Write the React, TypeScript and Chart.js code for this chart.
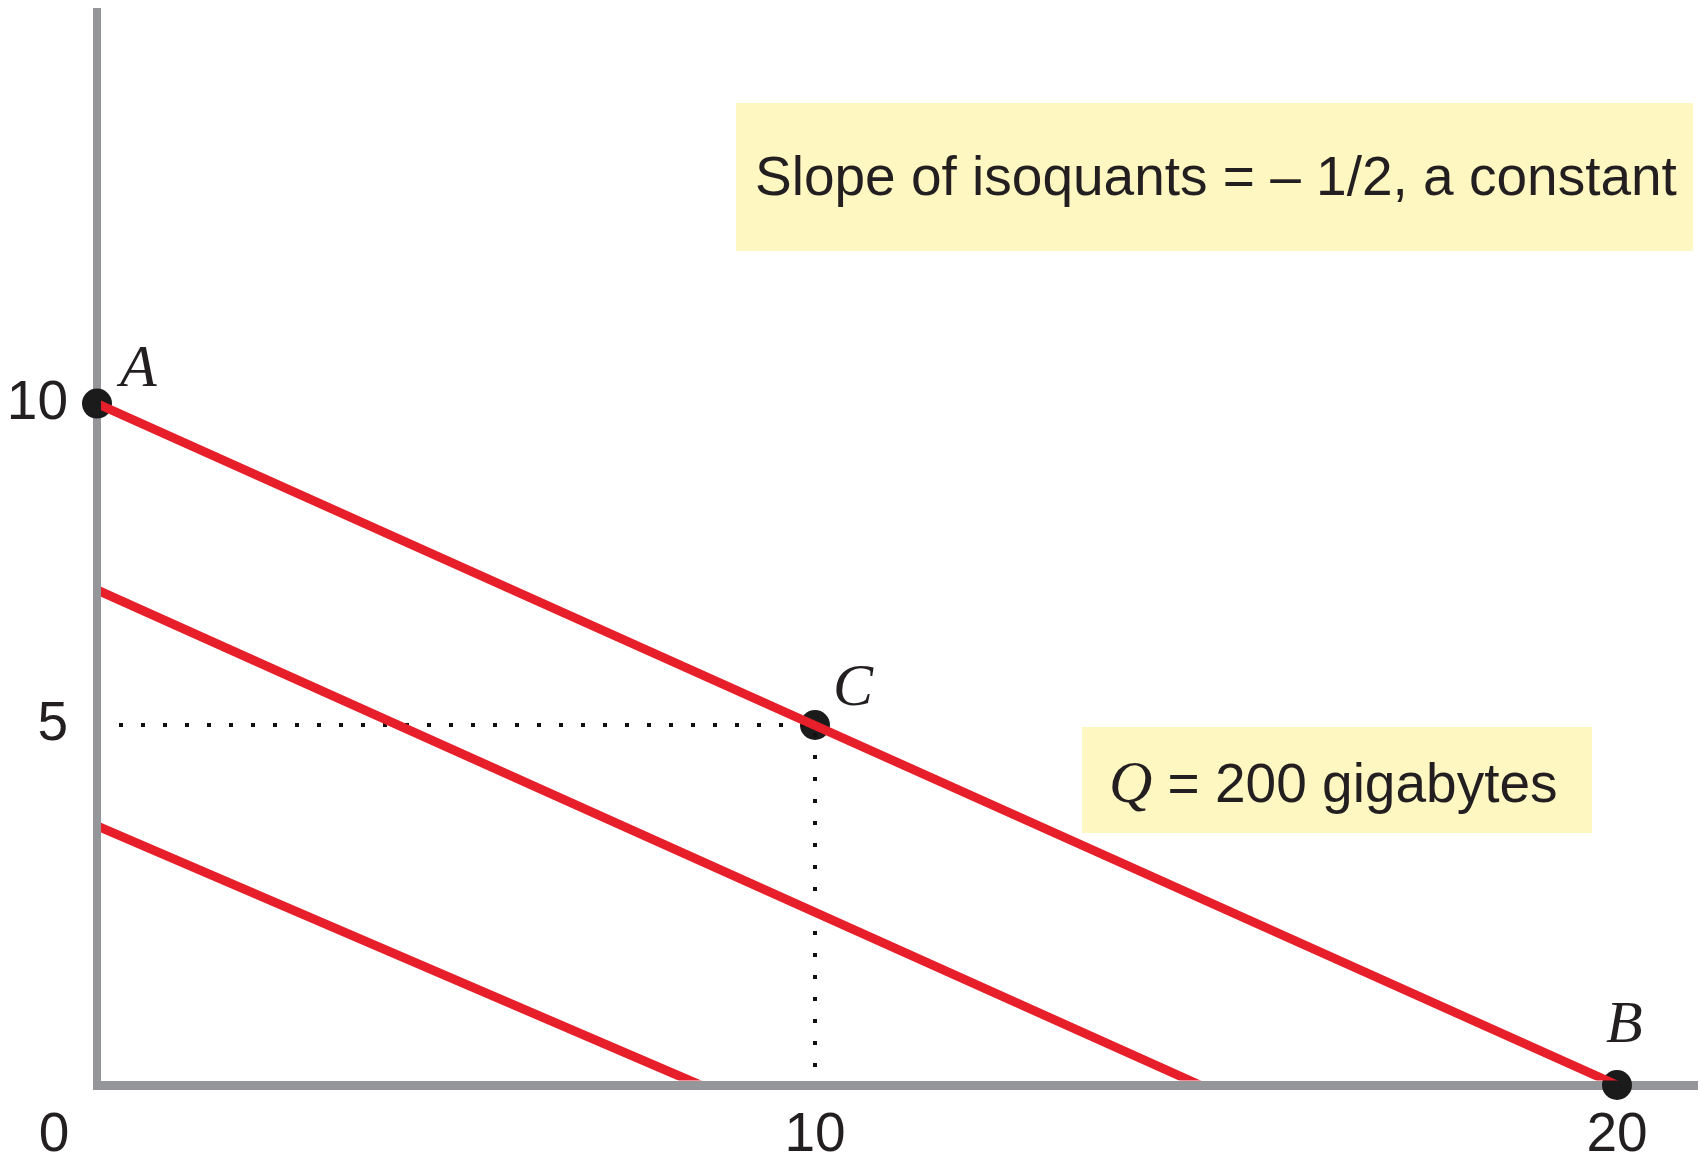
import React, { useEffect, useRef } from 'react';
import { Chart, LinearScale, registerables } from 'chart.js';

// Isoquants: capital (y) and labour (x) intercepts, highest output first
const ISOQUANT_Y_INTERCEPTS = [10, 7.1, 3.6];
const ISOQUANT_X_INTERCEPTS = [20, 14.8, 8.4];

// Marked input combinations on the Q = 200 isoquant
const POINT_LABELS = ['A', 'C', 'B'];
const POINT_X = [0, 10, 20];
const POINT_Y = [10, 5, 0];

// Dotted guide from the y axis through C down to the x axis
const GUIDE_X = [0, 10, 10];
const GUIDE_Y = [5, 5, 0];

// Axis ticks
const X_TICKS = [10, 20];
const Y_TICKS = [5, 10];
const ORIGIN_LABEL = '0';

// Notes
const SLOPE_NOTE = 'Slope of isoquants = \u2013 1/2, a constant';
const OUTPUT_SYMBOL = 'Q';
const OUTPUT_NOTE = ' = 200 gigabytes';

const RED = '#e61f2a';
const AXIS_GRAY = '#95969a';
const INK = '#231f20';
const NOTE_FILL = '#fef7c1';
const SANS = "'Liberation Sans', Arial, sans-serif";
const SERIF_ITALIC = "italic 60px 'Liberation Serif', 'Times New Roman', serif";

// The diagram is drawn schematically: each axis is split into segments of
// unequal length. Stops are [value, fraction of axis length].
type Stop = [number, number];
const AXIS_STOPS: Record<string, Stop[]> = {
  x: [[0, 0], [10, 0.44875], [20, 0.95], [21, 1]],
  y: [[0, 0], [5, 0.3355], [10, 0.6351], [16.09, 1]],
};

function interpolate(stops: Stop[], v: number, from: 0 | 1, to: 0 | 1): number {
  for (let i = 1; i < stops.length; i++) {
    const a = stops[i - 1];
    const b = stops[i];
    if (v <= b[from] || i === stops.length - 1) {
      const t = (v - a[from]) / (b[from] - a[from]);
      return a[to] + t * (b[to] - a[to]);
    }
  }
  return v;
}

class SegmentedScale extends LinearScale {
  static id = 'segmented';
  getPixelForValue(value: any) {
    if (value === null || value === undefined || isNaN(value)) return NaN;
    return this.getPixelForDecimal(interpolate(AXIS_STOPS[this.id], +value, 0, 1));
  }
  getValueForPixel(pixel: number) {
    return interpolate(AXIS_STOPS[this.id], this.getDecimalForPixel(pixel), 1, 0);
  }
}

Chart.register(...registerables, SegmentedScale);

// Letter offsets from each marked point, in pixels: [dx, dy]
const LETTER_OFFSETS: [number, number][] = [
  [23, -18],
  [18, -20],
  [-11, -43],
];

const notesPlugin = {
  id: 'isoquantNotes',
  beforeDatasetsDraw(chart: any) {
    const { ctx } = chart;
    ctx.save();
    ctx.fillStyle = NOTE_FILL;
    ctx.fillRect(736, 103, 957, 148);
    ctx.fillRect(1082, 727, 510, 106);

    ctx.fillStyle = INK;
    ctx.textBaseline = 'alphabetic';
    ctx.textAlign = 'left';
    ctx.font = `55px ${SANS}`;
    ctx.fillText(SLOPE_NOTE, 755, 195);

    let x = 1109;
    ctx.font = SERIF_ITALIC;
    ctx.fillText(OUTPUT_SYMBOL, x, 802);
    x += ctx.measureText(OUTPUT_SYMBOL).width;
    ctx.font = `55px ${SANS}`;
    ctx.fillText(OUTPUT_NOTE, x, 802);
    ctx.restore();
  },
  afterDatasetsDraw(chart: any) {
    const { ctx } = chart;
    const xs = chart.scales.x;
    const ys = chart.scales.y;
    ctx.save();
    ctx.fillStyle = INK;

    // origin label
    ctx.font = `55px ${SANS}`;
    ctx.textAlign = 'center';
    ctx.textBaseline = 'middle';
    ctx.fillText(ORIGIN_LABEL, xs.getPixelForValue(0) - 43, ys.getPixelForValue(0) + 51);

    // point letters
    const meta = chart.getDatasetMeta(chart.data.datasets.length - 1);
    ctx.font = SERIF_ITALIC;
    ctx.textAlign = 'left';
    ctx.textBaseline = 'alphabetic';
    meta.data.forEach((el: any, i: number) => {
      const [dx, dy] = LETTER_OFFSETS[i];
      ctx.fillText(POINT_LABELS[i], el.x + dx, el.y + dy);
    });
    ctx.restore();
  },
};

export default function App() {
  const ref = useRef<HTMLCanvasElement | null>(null);

  useEffect(() => {
    const canvas = ref.current;
    if (!canvas) return;

    const isoquants = ISOQUANT_Y_INTERCEPTS.map((yi, i) => ({
      data: [
        { x: 0, y: yi },
        { x: ISOQUANT_X_INTERCEPTS[i], y: 0 },
      ],
      showLine: true,
      borderColor: RED,
      borderWidth: 9,
      pointRadius: 0,
      clip: { left: -4, top: 0, right: 0, bottom: -4.5 },
    }));

    const guide = {
      data: GUIDE_X.map((x, i) => ({ x, y: GUIDE_Y[i] })),
      showLine: true,
      borderColor: '#111111',
      borderWidth: 4,
      borderDash: [4, 18],
      pointRadius: 0,
      clip: { left: -18, top: 0, right: 0, bottom: -4.5 },
    };

    const points = {
      data: POINT_X.map((x, i) => ({ x, y: POINT_Y[i] })),
      showLine: false,
      pointRadius: 15,
      pointBackgroundColor: '#1b1b1b',
      pointBorderColor: '#1b1b1b',
      pointBorderWidth: 0,
      clip: false,
    };

    const tickFont = { family: SANS, size: 55 };

    const chart = new Chart(canvas, {
      type: 'scatter',
      data: { datasets: [...isoquants, guide, points] as any },
      plugins: [notesPlugin],
      options: {
        animation: false,
        responsive: false,
        devicePixelRatio: 1,
        events: [],
        layout: { autoPadding: false, padding: { left: 0, right: 4, top: 12, bottom: 0 } },
        plugins: { legend: { display: false }, tooltip: { enabled: false }, title: { display: false } },
        scales: {
          x: {
            type: 'segmented' as any,
            min: 0,
            max: 21,
            grid: { display: false, drawTicks: false },
            border: { display: true, color: AXIS_GRAY, width: 9 },
            ticks: {
              font: tickFont,
              color: INK,
              padding: 18,
              autoSkip: false,
              maxRotation: 0,
              callback: (v: any) => String(v),
            },
            afterBuildTicks: (s: any) => {
              s.ticks = X_TICKS.map((value) => ({ value }));
            },
            afterFit: (s: any) => {
              s.height = 82;
              s.paddingLeft = 0;
              s.paddingRight = 0;
            },
          },
          y: {
            type: 'segmented' as any,
            min: 0,
            max: 16.09,
            grid: { display: false, drawTicks: false },
            border: { display: true, color: AXIS_GRAY, width: 8 },
            ticks: {
              font: tickFont,
              color: INK,
              padding: 29,
              autoSkip: false,
              callback: (v: any) => String(v),
            },
            afterBuildTicks: (s: any) => {
              s.ticks = Y_TICKS.map((value) => ({ value }));
            },
            afterFit: (s: any) => {
              s.width = 97;
              s.paddingTop = 0;
              s.paddingBottom = 0;
            },
          },
        },
      } as any,
    });

    return () => chart.destroy();
  }, []);

  return (
    <div style={{ position: 'absolute', left: 0, top: 0, width: 1701, height: 1167, background: '#ffffff' }}>
      <canvas ref={ref} width={1701} height={1167} style={{ display: 'block', width: 1701, height: 1167 }} />
    </div>
  );
}
